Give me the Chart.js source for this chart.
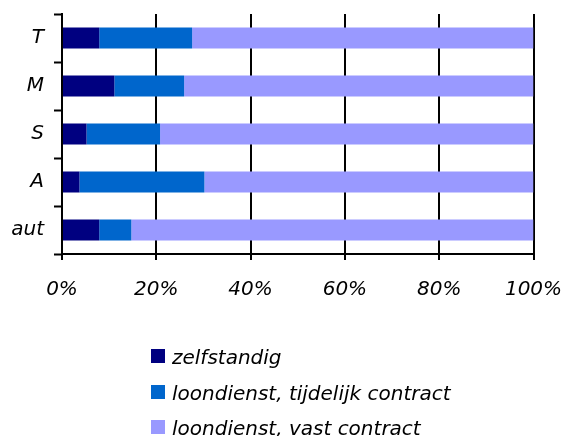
<!DOCTYPE html>
<html>
<head>
<meta charset="utf-8">
<script src="https://cdn.jsdelivr.net/npm/chart.js@4/dist/chart.umd.min.js"></script>
<style>
  html, body { margin: 0; padding: 0; background: #fff; }
  #wrap { position: relative; width: 564px; height: 436px; }
  #legend { position: absolute; left: 151px; top: 348px; font-family: "DejaVu Sans", Verdana, sans-serif; font-style: italic; font-size: 20px; color: #000; }
  .item { height: 35.5px; display: flex; align-items: flex-start; white-space: nowrap; }
  .box { width: 14px; height: 14px; margin-top: 1px; margin-right: 7px; flex: none; }
  .lbl { line-height: 18px; }
</style>
</head>
<body>
<div id="wrap">
  <canvas id="c" width="564" height="436"></canvas>
  <div id="legend"></div>
</div>
<script>
const categories = ["T", "M", "S", "A", "aut"];
const seriesNames = ["zelfstandig", "loondienst, tijdelijk contract", "loondienst, vast contract"];
const zelfstandig = [7.9, 11.1, 5.2, 3.7, 7.9];
const tijdelijk = [19.7, 14.8, 15.6, 26.5, 6.8];
const vast = [72.4, 74.1, 79.2, 69.8, 85.3];
const xTicks = [0, 20, 40, 60, 80, 100];
const colors = ["#000080", "#0066CC", "#9999FF"];

const font = { family: '"DejaVu Sans", Verdana, sans-serif', size: 20, style: 'italic' };
const datasets = [zelfstandig, tijdelijk, vast].map((d, i) => ({
  label: seriesNames[i],
  data: d,
  backgroundColor: colors[i],
  borderWidth: 0,
  barPercentage: 0.44,
  categoryPercentage: 1.0
}));

new Chart(document.getElementById('c'), {
  type: 'bar',
  data: { labels: categories, datasets },
  options: {
    responsive: false,
    animation: false,
    indexAxis: 'y',
    layout: { padding: { top: 14, right: 30.5, bottom: 136, left: 0 } },
    plugins: { legend: { display: false }, tooltip: { enabled: false } },
    scales: {
      x: {
        stacked: true,
        min: 0, max: 100,
        afterBuildTicks: s => { s.ticks = xTicks.map(v => ({ value: v })); },
        afterFit: s => { s.height = 46; s.paddingLeft = 0; s.paddingRight = 0; },
        ticks: { font, color: '#000', padding: 18, maxRotation: 0, callback: v => v + '%' },
        grid: { color: '#000', lineWidth: 2, tickLength: 6, tickColor: '#000', tickWidth: 2 },
        border: { color: '#000', width: 2 }
      },
      y: {
        stacked: true,
        afterFit: s => { s.width = 62; s.paddingTop = 0; s.paddingBottom = 0; },
        ticks: { font, color: '#000', padding: 10 },
        grid: { offset: true, drawOnChartArea: false, tickLength: 8, tickColor: '#000', tickWidth: 2 },
        border: { color: '#000', width: 2 }
      }
    }
  }
});

const legend = document.getElementById('legend');
seriesNames.forEach((n, i) => {
  const it = document.createElement('div');
  it.className = 'item';
  const b = document.createElement('div');
  b.className = 'box';
  b.style.background = colors[i];
  const t = document.createElement('span');
  t.className = 'lbl';
  t.textContent = n;
  it.appendChild(b); it.appendChild(t);
  legend.appendChild(it);
});
</script>
</body>
</html>
